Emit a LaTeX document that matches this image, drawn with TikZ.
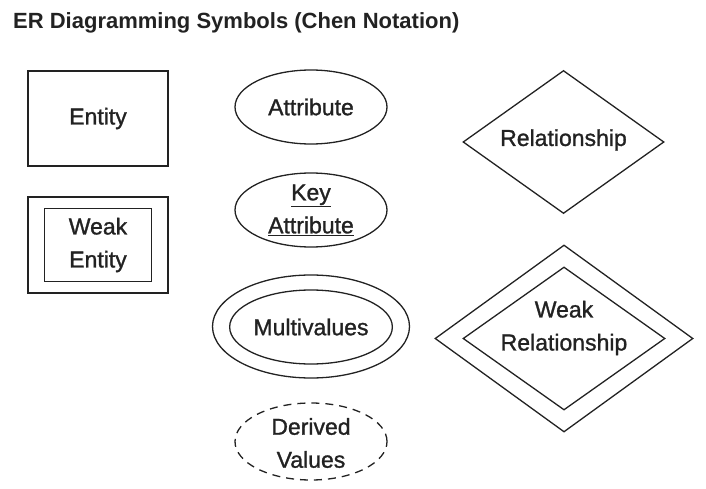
\documentclass[tikz,border=0pt]{standalone}
\usepackage{fontspec}
\setmainfont{Liberation Sans}
\newfontfamily\labelfont[FakeBold=1.2]{Liberation Sans}
\usetikzlibrary{shapes.geometric}
\definecolor{ink}{HTML}{222222}

\begin{document}
\begin{tikzpicture}[x=1pt,y=-1pt]
		\tikzstyle{box} = [rectangle, draw=ink, text=ink, line width=1.4pt, inner sep=0,
		align=center, font=\labelfont\fontsize{23}{33}\selectfont]
		\tikzstyle{oval} = [ellipse, draw=ink, text=ink, line width=1.3pt, inner sep=0,
		align=center, font=\labelfont\fontsize{23}{33}\selectfont]
		\tikzstyle{decision} = [diamond, draw=ink, text=ink, line width=1.3pt, inner sep=0,
		align=center, font=\labelfont\fontsize{23}{33}\selectfont]
		\tikzstyle{plain} = [inner sep=0, text=ink, align=center, font=\labelfont\fontsize{23}{33}\selectfont]
		
		\useasboundingbox (0,0) rectangle (706,489);
		
		\node [anchor=base west, inner sep=0, text=ink, font=\bfseries\fontsize{22}{26}\selectfont] (v0) at (13,29) {ER Diagramming Symbols (Chen Notation)};
		
		\node [box, minimum width=140, minimum height=95] (v1) at (98,118.5) {Entity};
		\node [box, minimum width=140, minimum height=96] (v2) at (98,245) {};
		\node [box, minimum width=107, minimum height=73] (v3) at (98,245) {Weak\\Entity};
		
		\node [oval, minimum width=152, minimum height=74] (v4) at (311,107) {Attribute};
		\node [oval, minimum width=152, minimum height=74] (v5) at (311,210) {\underline{Key}\\\underline{Attribute}};
		\node [oval, minimum width=197, minimum height=103] (v6) at (311,326.5) {};
		\node [oval, minimum width=153, minimum height=74] (v7) at (311,327) {Multivalues};
		\node [oval, dash pattern=on 8pt off 6pt, minimum width=152, minimum height=77] (v8) at (311,441.5) {};
		\node [plain] (v9) at (311,443) {Derived\\Values};
		
		\node [decision, minimum width=201, minimum height=143] (v10) at (563.5,142) {};
		\node [plain] (v11) at (563.5,140) {Relationship};
		\node [decision, minimum width=258, minimum height=187] (v12) at (564,338.5) {};
		\node [decision, minimum width=202, minimum height=143] (v13) at (564,338.5) {};
		\node [plain] (v14) at (564,328) {Weak\\Relationship};
\end{tikzpicture}
\end{document}
